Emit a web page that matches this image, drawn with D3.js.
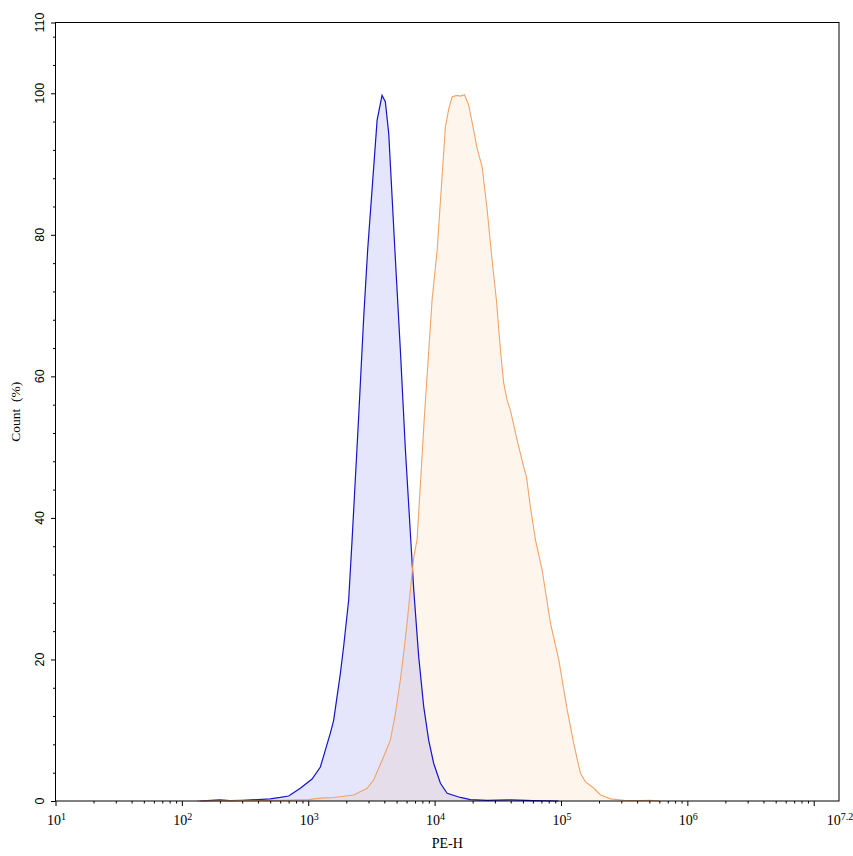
<!DOCTYPE html>
<html>
<head>
<meta charset="utf-8">
<title>PE-H histogram</title>
<script src="https://cdn.jsdelivr.net/npm/d3@7/dist/d3.min.js"></script>
<style>
  body { margin: 0; background: #fff; }
  svg { display: block; font-family: "Liberation Serif", "DejaVu Serif", serif; }
</style>
</head>
<body>
<div id="chart"></div>
<script>
// PE-H intensity and count (% of max) for each sample
const blueX = [140, 170, 200, 240, 300, 400, 501, 600, 700, 865, 1072, 1247, 1496, 1589, 1795, 1905, 2089, 2223, 2506, 2748, 2951, 3508, 3837, 4074, 4335, 4898, 5358, 5875, 6546, 6839, 7482, 8204, 8974, 9840, 11117, 12560, 15996, 19187, 26060, 40000, 60000, 95500];
const blueY = [0, 0.1, 0.15, 0.05, 0.1, 0.2, 0.3, 0.5, 0.7, 1.8, 3.1, 4.8, 9.6, 11.4, 18, 21.8, 28.4, 36.9, 54.3, 68.4, 77.8, 96.2, 99.7, 98.8, 94.3, 76.4, 63.7, 49.6, 35.5, 29.8, 20.4, 13.3, 8.6, 5.3, 2.5, 1.1, 0.5, 0.2, 0.1, 0.15, 0.05, 0];

const orangeX = [132, 300, 600, 1000, 1247, 1589, 2286, 2924, 3296, 3954, 4467, 4898, 5358, 5689, 6053, 6427, 6839, 7261, 7727, 8299, 8810, 9550, 10470, 12160, 12940, 13770, 15070, 16000, 17220, 18620, 19820, 21680, 23770, 26060, 28510, 30830, 33190, 35240, 37500, 39810, 44980, 50700, 53330, 57280, 62810, 70960, 82600, 96160, 111900, 126200, 142600, 156300, 182000, 205600, 246600, 314100, 420000, 511700, 600000];
const orangeY = [0, 0.05, 0.1, 0.2, 0.4, 0.5, 0.85, 1.8, 3, 6.3, 8.6, 12.4, 17.1, 20.9, 25.1, 29.8, 34.5, 36.9, 44.9, 54.3, 61.3, 70.8, 77.8, 95.2, 97.8, 99.5, 99.7, 99.6, 99.8, 98.3, 95.9, 92.2, 89.6, 83.5, 76.4, 70.8, 63.7, 59, 56.6, 55.2, 51, 47.2, 45.8, 41.5, 36.9, 32.6, 25.1, 19.9, 12.9, 8.1, 3.9, 2.7, 1.8, 0.85, 0.3, 0.1, 0.05, 0.1, 0];

const xMajor = [1, 2, 3, 4, 5, 6];       // labelled decades (exponents)
const xMax = 7.2;                         // right end of axis (exponent)
const yMajor = [0, 20, 40, 60, 80, 100, 110];
const yMinor = [4, 8, 12, 16, 24, 28, 32, 36, 44, 48, 52, 56, 64, 68, 72, 76, 84, 88, 92, 96, 104, 108];

const width = 853, height = 856;
const margin = {top: 22.5, right: 14, bottom: 55, left: 55.5};
const innerW = width - margin.left - margin.right;
const innerH = height - margin.top - margin.bottom;

const x = d3.scaleLog().domain([10, Math.pow(10, xMax)]).range([0, innerW]);
const y = d3.scaleLinear().domain([0, 110]).range([innerH, 0]);

const svg = d3.select("#chart").append("svg")
  .attr("width", width)
  .attr("height", height);

const g = svg.append("g").attr("transform", `translate(${margin.left},${margin.top})`);

const area = d3.area().x(d => x(d[0])).y0(innerH).y1(d => y(d[1]));
const line = d3.line().x(d => x(d[0])).y(d => y(d[1]));

const blue = blueX.map((v, i) => [v, blueY[i]]);
const orange = orangeX.map((v, i) => [v, orangeY[i]]);

g.append("path").datum(blue).attr("d", area).attr("fill", "rgba(0,0,230,0.1)");
g.append("path").datum(orange).attr("d", area).attr("fill", "rgba(245,160,80,0.1)");
g.append("path").datum(blue).attr("d", line).attr("fill", "none").attr("stroke", "#1414c8").attr("stroke-width", 1.2);
g.append("path").datum(orange).attr("d", line).attr("fill", "none").attr("stroke", "#f2a466").attr("stroke-width", 1.1);

// frame
g.append("rect").attr("width", innerW).attr("height", innerH)
  .attr("fill", "none").attr("stroke", "#000").attr("stroke-width", 1);

// x axis ticks
const majorVals = d3.range(1, 8).map(e => Math.pow(10, e)).filter(v => v <= Math.pow(10, xMax));
const minorVals = [];
for (let e = 1; e <= 7; e++) for (let k = 2; k <= 9; k++) {
  const v = k * Math.pow(10, e);
  if (v < Math.pow(10, xMax)) minorVals.push(v);
}
const xAxis = g.append("g").attr("transform", `translate(0,${innerH})`);
xAxis.call(d3.axisBottom(x).tickValues(majorVals).tickSize(5).tickFormat(""));
xAxis.append("g").call(d3.axisBottom(x).tickValues(minorVals).tickSize(2.5).tickFormat(""));
xAxis.selectAll(".domain").remove();
xAxis.selectAll("line").attr("stroke", "#000");
xAxis.attr("font-family", "'Liberation Serif', serif");

const xLabels = xMajor.map(e => ({v: Math.pow(10, e), e: String(e)}))
  .concat([{v: Math.pow(10, xMax), e: String(xMax)}]);
const lab = xAxis.selectAll("text.xl").data(xLabels).enter().append("text")
  .attr("class", "xl")
  .attr("x", d => x(d.v) + 1)
  .attr("y", 24)
  .attr("text-anchor", "middle")
  .attr("font-size", 14)
  .attr("fill", "#000");
lab.append("tspan").text("10");
lab.append("tspan").attr("font-size", 10).attr("dy", -5.5).text(d => d.e);

// y axis ticks
const yAxis = g.append("g");
yAxis.call(d3.axisLeft(y).tickValues(yMajor).tickSize(4.5).tickFormat(""));
yAxis.append("g").call(d3.axisLeft(y).tickValues(yMinor).tickSize(2.5).tickFormat(""));
yAxis.selectAll(".domain").remove();
yAxis.selectAll("line").attr("stroke", "#000");
yAxis.attr("font-family", "'Liberation Sans', Arial, sans-serif");

yAxis.selectAll("text.yl").data(yMajor).enter().append("text")
  .attr("class", "yl")
  .attr("transform", d => `translate(-12,${y(d)}) rotate(-90)`)
  .attr("text-anchor", "middle")
  .attr("font-size", 12.5)
  .attr("fill", "#000")
  .text(d => d);

// axis titles
svg.append("text")
  .attr("transform", `translate(19.5,${margin.top + innerH / 2}) rotate(-90)`)
  .attr("text-anchor", "middle")
  .attr("font-size", 13.5)
  .attr("xml:space", "preserve")
  .style("white-space", "pre")
  .text("Count  (%)");

svg.append("text")
  .attr("x", margin.left + innerW / 2)
  .attr("y", 848)
  .attr("text-anchor", "middle")
  .attr("font-size", 14)
  .text("PE-H");
</script>
</body>
</html>
